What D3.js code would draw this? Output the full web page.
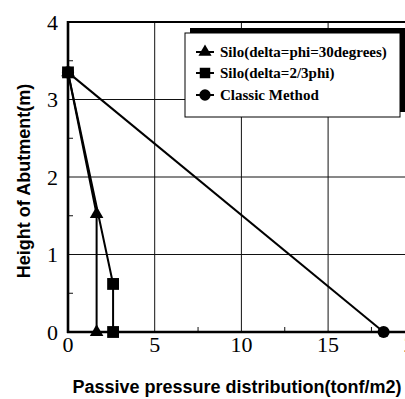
<!DOCTYPE html>
<html><head><meta charset="utf-8">
<script src="https://cdn.jsdelivr.net/npm/d3@7"></script>
<style>html,body{margin:0;padding:0;background:#fff;overflow:hidden}</style>
</head><body>
<script>
// Data
const seriesNames = ["Silo(delta=phi=30degrees)", "Silo(delta=2/3phi)", "Classic Method"];
const triX = [0, 1.65, 1.65];
const triY = [3.35, 1.52, 0];
const sqX = [0, 2.6, 2.6];
const sqY = [3.35, 0.62, 0];
const clX = [0, 18.2];
const clY = [3.35, 0];
const xTicks = [0, 5, 10, 15, 20];
const yTicks = [0, 1, 2, 3, 4];
const xMinor = [2.5, 7.5, 12.5, 17.5];
const yMinor = [0.5, 1.5, 2.5, 3.5];
const xTitle = "Passive pressure distribution(tonf/m2)";
const yTitle = "Height of Abutment(m)";

const W = 405, H = 399;
const svg = d3.select("body").append("svg").attr("width", W).attr("height", H);
svg.append("rect").attr("width", W).attr("height", H).attr("fill", "#fff");

const x = d3.scaleLinear().domain([0, 20]).range([68, 414.8]);
const y = d3.scaleLinear().domain([0, 4]).range([332, 22]);

// grid
const g = svg.append("g");
g.selectAll(".vg").data(xTicks.slice(1)).join("line")
  .attr("x1", d => x(d)).attr("x2", d => x(d)).attr("y1", y(0)).attr("y2", y(4))
  .attr("stroke", "#111").attr("stroke-width", 1);
g.selectAll(".hg").data(yTicks.slice(1, 4)).join("line")
  .attr("x1", x(0)).attr("x2", x(20)).attr("y1", d => y(d)).attr("y2", d => y(d))
  .attr("stroke", "#111").attr("stroke-width", 1);
// minor ticks
g.selectAll(".ym").data(yMinor).join("line")
  .attr("x1", x(0)).attr("x2", x(0) + 5).attr("y1", d => y(d)).attr("y2", d => y(d))
  .attr("stroke", "#111").attr("stroke-width", 1);
g.selectAll(".xm").data(xMinor).join("line")
  .attr("x1", d => x(d)).attr("x2", d => x(d)).attr("y1", y(0)).attr("y2", y(0) - 5)
  .attr("stroke", "#111").attr("stroke-width", 1);

// frame
g.append("line").attr("x1", x(0)).attr("x2", x(20)).attr("y1", y(4)).attr("y2", y(4)).attr("stroke", "#000").attr("stroke-width", 2.2);
g.append("line").attr("x1", x(20)).attr("x2", x(20)).attr("y1", y(4)).attr("y2", y(0)).attr("stroke", "#000").attr("stroke-width", 2.2);
g.append("line").attr("x1", x(0)).attr("x2", x(0)).attr("y1", y(4) - 1).attr("y2", y(0) + 1).attr("stroke", "#000").attr("stroke-width", 2.6);
g.append("line").attr("x1", x(0) - 1).attr("x2", x(20)).attr("y1", y(0)).attr("y2", y(0)).attr("stroke", "#000").attr("stroke-width", 2.6);

// tick labels
svg.selectAll(".xl").data(xTicks).join("text")
  .attr("x", d => x(d)).attr("y", 352)
  .attr("text-anchor", "middle").attr("font-family", "Liberation Serif, Times New Roman, serif")
  .attr("font-size", 22).attr("fill", "#000").text(d => d);
svg.selectAll(".yl").data(yTicks).join("text")
  .attr("x", 58).attr("y", d => y(d) + 7.5)
  .attr("text-anchor", "end").attr("font-family", "Liberation Serif, Times New Roman, serif")
  .attr("font-size", 22).attr("fill", "#000").text(d => d);

// titles
svg.append("text").attr("x", 237).attr("y", 393).attr("text-anchor", "middle")
  .attr("font-family", "Liberation Sans, Arial, sans-serif").attr("font-weight", "bold")
  .attr("font-size", 18).attr("fill", "#000").text(xTitle);
svg.append("text").attr("transform", "translate(30,181) rotate(-90)").attr("text-anchor", "middle")
  .attr("font-family", "Liberation Sans, Arial, sans-serif").attr("font-weight", "bold")
  .attr("font-size", 18).attr("fill", "#000").text(yTitle);

// lines
const line = d3.line().x(d => x(d[0])).y(d => y(d[1]));
const series = [
  {pts: d3.zip(clX, clY), sym: d3.symbolCircle, size: 115},
  {pts: d3.zip(triX, triY), sym: d3.symbolTriangle, size: 80},
  {pts: d3.zip(sqX, sqY), sym: d3.symbolSquare, size: 140}
];
series.forEach(s => {
  svg.append("path").attr("d", line(s.pts)).attr("fill", "none").attr("stroke", "#000").attr("stroke-width", 2);
});
series.forEach(s => {
  svg.selectAll(null).data(s.pts).join("path")
    .attr("transform", d => `translate(${x(d[0])},${y(d[1])})`)
    .attr("d", d3.symbol().type(s.sym).size(s.size)()).attr("fill", "#000");
});

// legend
const lg = svg.append("g");
lg.append("rect").attr("x", 190).attr("y", 28).attr("width", 215).attr("height", 84).attr("fill", "#000");
lg.append("rect").attr("x", 185).attr("y", 33).attr("width", 215).attr("height", 84).attr("fill", "#fff").attr("stroke", "#000").attr("stroke-width", 1);
const legSyms = [
  {sym: d3.symbolTriangle, size: 75},
  {sym: d3.symbolSquare, size: 110},
  {sym: d3.symbolCircle, size: 100}
];
const rowY = [52, 73, 95];
seriesNames.forEach((n, i) => {
  lg.append("line").attr("x1", 196).attr("x2", 214).attr("y1", rowY[i]).attr("y2", rowY[i]).attr("stroke", "#000").attr("stroke-width", 2);
  lg.append("path").attr("transform", `translate(205,${rowY[i]})`).attr("d", d3.symbol().type(legSyms[i].sym).size(legSyms[i].size)()).attr("fill", "#000");
  lg.append("text").attr("x", 220).attr("y", rowY[i] + 5).attr("font-family", "Liberation Serif, Times New Roman, serif")
    .attr("font-weight", "bold").attr("font-size", 15).attr("fill", "#000").text(n);
});
</script>
</body></html>
